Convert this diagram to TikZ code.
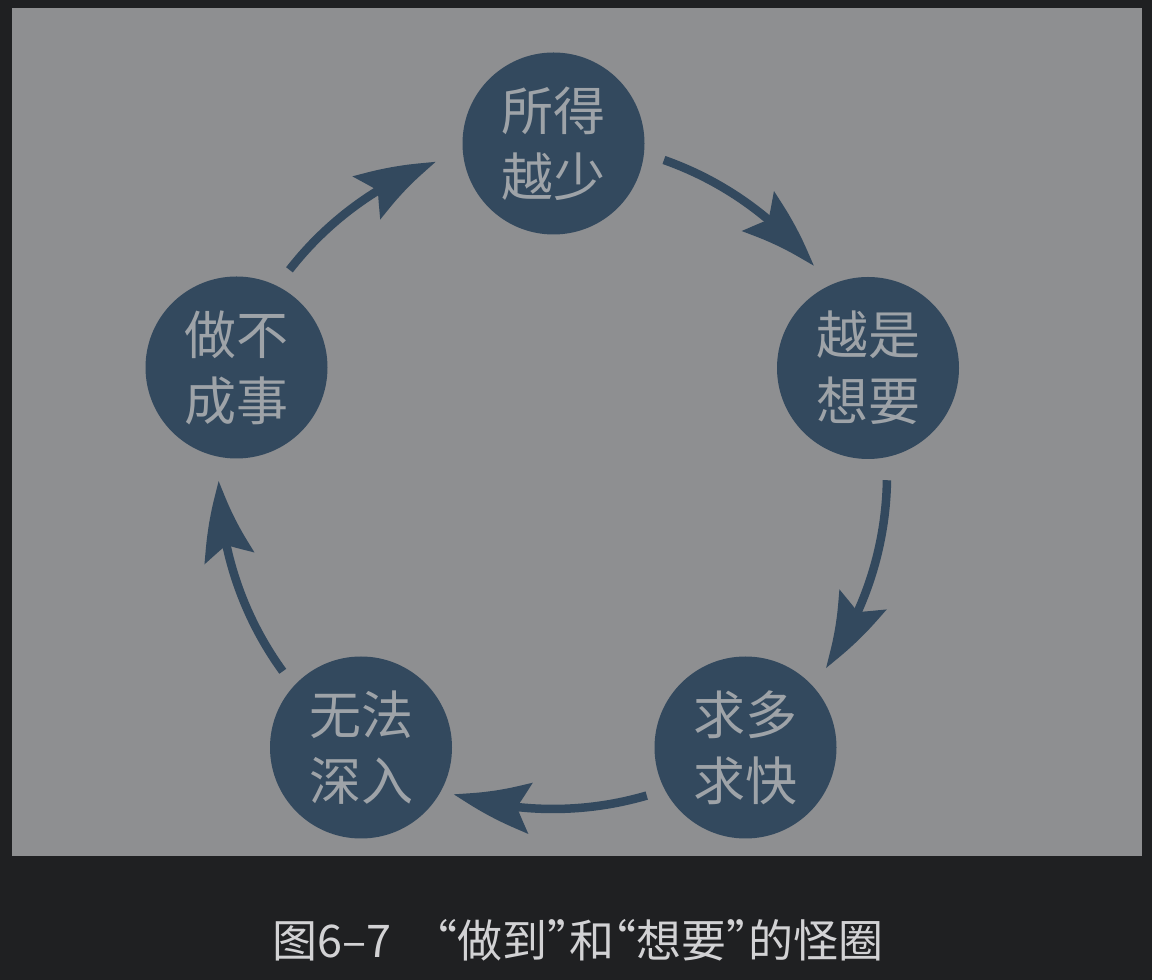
\documentclass[tikz,border=0pt]{standalone}
\usepackage{fontspec}
\setmainfont{Noto Sans CJK SC}
\usetikzlibrary{arrows.meta,bending}
\definecolor{bg}{HTML}{1F2022}
\definecolor{panel}{HTML}{8E8F91}
\definecolor{navy}{HTML}{33495E}
\definecolor{txt}{HTML}{9EA3A8}
\definecolor{cap}{HTML}{D2D2D4}
\newcommand{\myopq}{\makebox[22pt][r]{“}}
\newcommand{\myclq}{\makebox[22pt][l]{”}}
\begin{document}
\begin{tikzpicture}[x=1pt,y=1pt,
  stage/.style={circle,fill=navy,minimum size=182pt,inner sep=0pt,text=txt,
    font=\fontsize{52}{66}\selectfont,align=center},
  flow/.style={draw=navy,line width=8.5pt,
    -{Stealth[length=78pt,width=50pt,inset=13pt,bend]}}]
\useasboundingbox (0,0) rectangle (1152,980);
\fill[bg] (0,0) rectangle (1152,980);
\fill[panel] (12,124) rectangle (1142,972);
\node[stage] (n1) at (553.5,836.5) {所得\\越少};
\node[stage] (n2) at (868,612) {越是\\想要};
\node[stage] (n3) at (745.5,232.5) {求多\\求快};
\node[stage] (n4) at (361,232.5) {无法\\深入};
\node[stage] (n5) at (236.5,612.5) {做不\\成事};
\coordinate (c) at (553,505);
\path (c) ++(70.6:334) coordinate (a1);
\path (c) ++(-0.9:334) coordinate (a2);
\path (c) ++(-73.7:334) coordinate (a3);
\path (c) ++(216:334) coordinate (a4);
\path (c) ++(142.1:334) coordinate (a5);
\draw[flow] (a1) arc[start angle=70.6,end angle=38.7,radius=334];
\draw[flow] (a2) arc[start angle=-0.9,end angle=-35.3,radius=334];
\draw[flow] (a3) arc[start angle=-73.7,end angle=-107.3,radius=334];
\draw[flow] (a4) arc[start angle=216,end angle=181,radius=334];
\draw[flow] (a5) arc[start angle=142.1,end angle=110.5,radius=334];
\node[text=cap,font=\fontsize{45}{45}\selectfont,anchor=west,inner sep=0pt] (caption) at (272,40)
  {图6–7\hspace{44pt}\myopq 做到\myclq 和\myopq 想要\myclq 的怪圈};
\end{tikzpicture}
\end{document}
